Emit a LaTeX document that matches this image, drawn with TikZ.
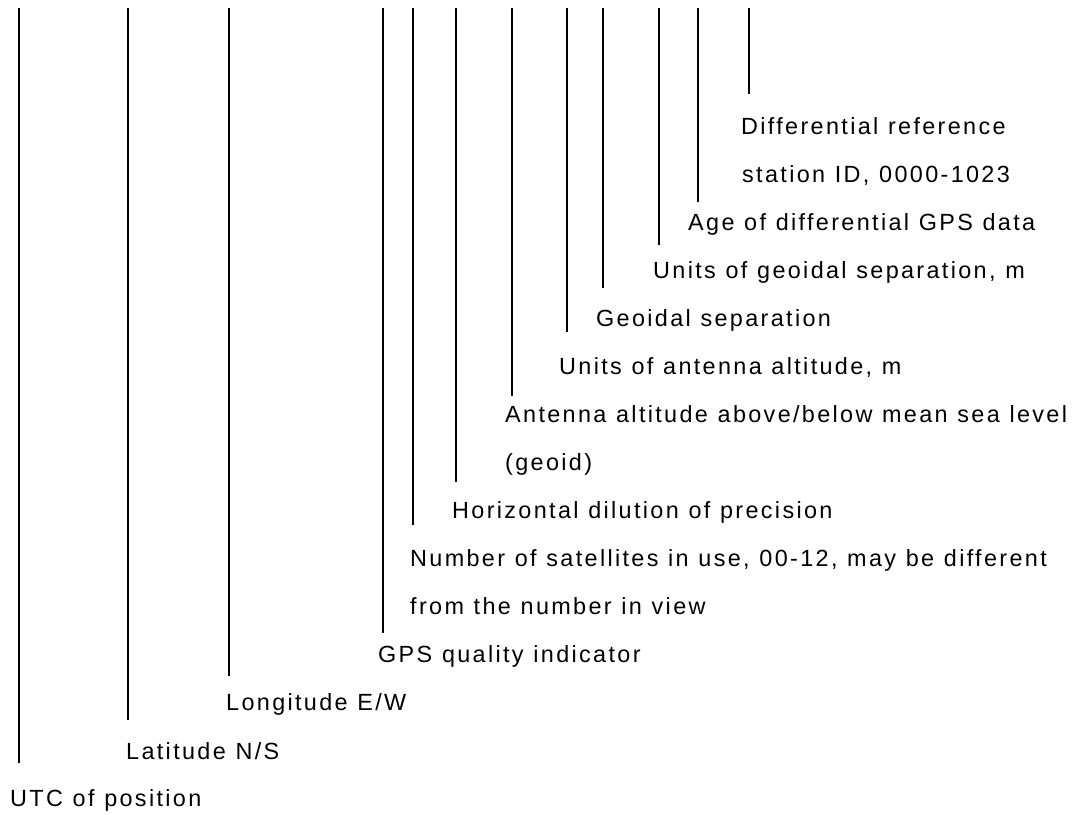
\documentclass[tikz,border=0pt]{standalone}
\usepackage{fontspec}
\setmainfont[LetterSpace=10,WordSpace=1.1]{Liberation Sans}
\begin{document}
\begin{tikzpicture}[x=1pt,y=-1pt,
  lbl/.style={anchor=base west, inner sep=0pt, font=\fontsize{23.4}{28}\selectfont},
  lead/.style={line width=1.8pt, black}]
\useasboundingbox (0,0) rectangle (1073,814);
% labels
\node[lbl] (diff1) at (741,134) {Differential reference};
\node[lbl] (diff2) at (742,182) {station ID, 0000-1023};
\node[lbl] (age)   at (688,230) {Age of differential GPS data};
\node[lbl] (ugeo)  at (653,278) {Units of geoidal separation, m};
\node[lbl] (geo)   at (596,326) {Geoidal separation};
\node[lbl] (uant)  at (559,374) {Units of antenna altitude, m};
\node[lbl] (ant1)  at (505,422) {Antenna altitude above/below mean sea level};
\node[lbl] (ant2)  at (505,470) {(geoid)};
\node[lbl] (hdop)  at (452,518) {Horizontal dilution of precision};
\node[lbl] (sat1)  at (410,566) {Number of satellites in use, 00-12, may be different};
\node[lbl] (sat2)  at (410,614) {from the number in view};
\node[lbl] (gps)   at (378,662) {GPS quality indicator};
\node[lbl] (lon)   at (226,710) {Longitude E/W};
\node[lbl] (lat)   at (126,759) {Latitude N/S};
\node[lbl] (utc)   at (10,806)  {UTC of position};
% leader ends
\coordinate (tutc) at (19,8);   \coordinate (eutc) at (19,763);
\coordinate (tlat) at (128,8);  \coordinate (elat) at (128,720);
\coordinate (tlon) at (229,8);  \coordinate (elon) at (229,676);
\coordinate (tgps) at (383,8);  \coordinate (egps) at (383,633);
\coordinate (tsat) at (413,8);  \coordinate (esat) at (413,525);
\coordinate (thdop) at (456,8); \coordinate (ehdop) at (456,482);
\coordinate (tant) at (512,8);  \coordinate (eant) at (512,396);
\coordinate (tuant) at (567,8); \coordinate (euant) at (567,332);
\coordinate (tgeo) at (603,8);  \coordinate (egeo) at (603,288);
\coordinate (tugeo) at (659,8); \coordinate (eugeo) at (659,245);
\coordinate (tage) at (698,8);  \coordinate (eage) at (698,202);
\coordinate (tdiff) at (749,8); \coordinate (ediff) at (749,94);
\draw[lead] (tutc) -- (eutc);
\draw[lead] (tlat) -- (elat);
\draw[lead] (tlon) -- (elon);
\draw[lead] (tgps) -- (egps);
\draw[lead] (tsat) -- (esat);
\draw[lead] (thdop) -- (ehdop);
\draw[lead] (tant) -- (eant);
\draw[lead] (tuant) -- (euant);
\draw[lead] (tgeo) -- (egeo);
\draw[lead] (tugeo) -- (eugeo);
\draw[lead] (tage) -- (eage);
\draw[lead] (tdiff) -- (ediff);
\end{tikzpicture}
\end{document}
